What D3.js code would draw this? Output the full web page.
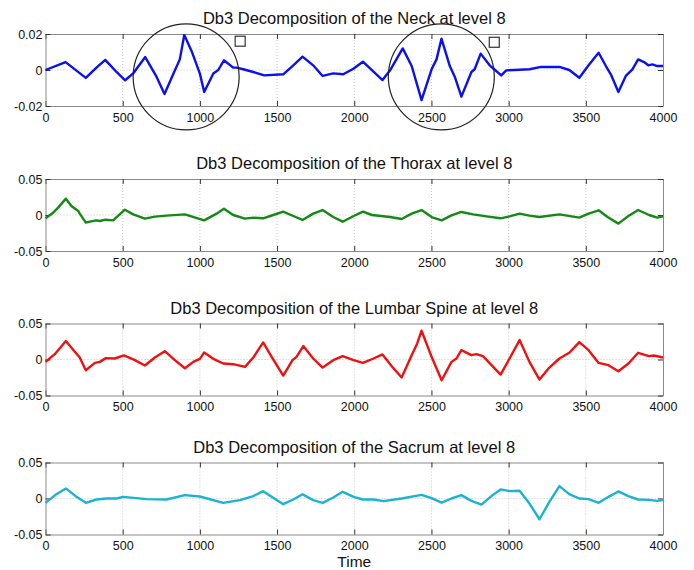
<!DOCTYPE html>
<html>
<head>
<meta charset="utf-8">
<script src="https://cdn.jsdelivr.net/npm/d3@7/dist/d3.min.js"></script>
<style>
  html, body { margin: 0; padding: 0; background: #fff; }
  svg { display: block; font-family: "Liberation Sans", Arial, Helvetica, sans-serif; }
  .domain { stroke: #8a8a8a; }
  .tick line { stroke: #333; }
  .tick text { fill: #111; }
</style>
</head>
<body>
<svg id="chart" width="694" height="570"></svg>
<script>
// Level-8 Db3 approximation signals (sample index vs. amplitude)
const neckT = [0,130,261,330,387,460,516,568,646,719,771,827,870,899,946,1000,1028,1087,1119,1156,1216,1238,1281,1346,1417,1540,1600,1665,1734,1795,1864,1929,1994,2056,2183,2232,2314,2372,2436,2501,2533,2565,2619,2651,2694,2759,2780,2819,2877,2903,2952,2985,3038,3135,3210,3329,3393,3458,3518,3583,3630,3662,3711,3759,3802,3839,3877,3905,3931,3963,4000];
const neckV = [0,0.0044,-0.0044,0.0013,0.0056,-0.0011,-0.0057,-0.0019,0.0072,-0.0037,-0.0133,-0.0024,0.0059,0.0194,0.0106,-0.002,-0.0122,-0.0019,0,0.0054,0.0013,0.0013,0.0004,-0.0011,-0.003,-0.0024,0.0022,0.0074,0.0026,-0.0033,-0.0019,-0.0024,0.0007,0.0046,-0.0056,-0.0002,0.012,0.0022,-0.0167,0.0004,0.0059,0.0174,0.0022,-0.0037,-0.0148,-0.0011,0.0004,0.0091,0.0026,0.0007,-0.003,-0.0002,0,0.0004,0.0017,0.0017,0,-0.0043,0.0026,0.0096,0.0022,-0.0024,-0.0122,-0.0033,0.0004,0.0059,0.0044,0.0026,0.0031,0.0022,0.0022];

const thoraxT = [0,50,82,132,168,212,222,261,287,330,352,389,438,514,568,644,708,784,903,1028,1108,1156,1216,1292,1346,1410,1475,1540,1605,1665,1734,1795,1864,1925,1996,2056,2114,2232,2307,2372,2436,2501,2566,2630,2694,2770,2856,2948,3006,3071,3135,3200,3329,3458,3518,3583,3641,3711,3776,3839,3909,3963,4000];
const thoraxV = [-0.0046,0.0032,0.0102,0.0227,0.0125,0.0056,0.0019,-0.0106,-0.0093,-0.0074,-0.0083,-0.0065,-0.0074,0.0074,0.0009,-0.0051,-0.0023,-0.0009,0.0009,-0.0074,0.0019,0.0088,0,-0.0051,-0.0037,-0.0046,0,0.0046,-0.0014,-0.0069,0.0019,0.0069,-0.0028,-0.0093,-0.0014,0.0046,0,-0.0028,-0.0056,0.0019,0.0069,-0.0028,-0.0074,-0.0005,0.0042,0.0009,-0.0019,-0.0046,-0.0019,0.0019,-0.0009,-0.0028,0.0009,-0.0037,0.0019,0.0065,-0.0028,-0.012,-0.0014,0.0069,0,-0.0037,-0.0019];

const lumbarT = [0,60,132,190,222,261,320,352,391,449,508,579,644,708,773,838,903,957,1000,1028,1087,1151,1216,1292,1346,1410,1465,1540,1600,1626,1670,1734,1795,1864,1925,1996,2056,2125,2183,2243,2307,2372,2408,2436,2501,2566,2630,2662,2694,2759,2791,2834,2948,3006,3071,3135,3200,3264,3329,3393,3458,3518,3583,3647,3711,3776,3839,3909,3941,4000];
const lumbarV = [-0.0033,0.0074,0.0256,0.0107,0.0028,-0.0149,-0.0047,-0.0033,0.0019,0.0014,0.0056,-0.0009,-0.0084,0.0028,0.0116,-0.0009,-0.0121,-0.0033,0.0009,0.0098,0.0009,-0.0056,-0.0065,-0.0102,0.0028,0.0237,0.0037,-0.0223,-0.0009,0.0037,0.0186,0.0014,-0.0112,-0.0009,0.0047,-0.0009,-0.0047,0.0014,0.007,-0.0093,-0.0251,0.006,0.0223,0.04,0.0037,-0.0288,-0.0033,0.0014,0.013,0.006,0.0074,0.0047,-0.0209,0.0014,0.027,-0.0033,-0.0279,-0.0112,0.0014,0.0093,0.0242,0.013,-0.0047,-0.0079,-0.0163,-0.0056,0.0093,0.0047,0.0056,0.0028];

const sacrumT = [0,71,132,201,261,330,395,460,503,654,784,903,1000,1151,1259,1346,1410,1540,1605,1665,1734,1795,1864,1925,1996,2056,2125,2189,2307,2436,2501,2566,2630,2694,2759,2824,2888,2948,3006,3071,3135,3200,3264,3329,3393,3458,3518,3583,3647,3711,3776,3839,3909,3963,4000];
const sacrumV = [-0.006,0.006,0.014,0.0023,-0.006,-0.0014,0,0,0.0023,-0.0009,-0.0014,0.0047,0.0028,-0.006,-0.0023,0.0033,0.0102,-0.0079,-0.0014,0.006,-0.0023,-0.006,0.0014,0.0093,0.0023,-0.0014,-0.0014,-0.0037,0,0.0051,0.0005,-0.0056,0,0.0047,-0.0033,-0.0084,0.0033,0.0126,0.0102,0.0107,-0.007,-0.0288,-0.0047,0.0172,0.006,0,-0.0009,-0.006,0.0023,0.0098,0.0033,-0.0014,-0.0019,-0.0033,-0.0023];

// Panel titles, y-limits and tick labels
const titles = [
  "Db3 Decomposition of the Neck at level 8",
  "Db3 Decomposition of the Thorax at level 8",
  "Db3 Decomposition of the Lumbar Spine at level 8",
  "Db3 Decomposition of the Sacrum at level 8"
];
const yLimits = [[-0.02, 0.02], [-0.05, 0.05], [-0.05, 0.05], [-0.05, 0.05]];
const yTickValues = [[-0.02, 0, 0.02], [-0.05, 0, 0.05], [-0.05, 0, 0.05], [-0.05, 0, 0.05]];
const xTickValues = [0, 500, 1000, 1500, 2000, 2500, 3000, 3500, 4000];
const xLabel = "Time";

// Highlighted regions on the neck signal: [time, amplitude] centres
const circleCentres = [[911, -0.0038], [2564, -0.0038]];
const squareCentres = [[1261, 0.0160], [2907, 0.0154]];

const series = [
  { t: neckT, v: neckV, color: "#0b10f0" },
  { t: thoraxT, v: thoraxV, color: "#148a14" },
  { t: lumbarT, v: lumbarV, color: "#f01010" },
  { t: sacrumT, v: sacrumV, color: "#1ab4d2" }
];

const svg = d3.select("#chart");
const left = 45.5, right = 663, panelH = 72;
const panelTops = [34, 179, 323.5, 462.5];

const x = d3.scaleLinear().domain([0, 4000]).range([left, right]);

series.forEach((s, i) => {
  const top = panelTops[i];
  const y = d3.scaleLinear().domain(yLimits[i]).range([top + panelH, top]);
  const g = svg.append("g");

  // dotted grid
  g.append("g").selectAll("line").data(xTickValues.slice(1, -1)).join("line")
    .attr("x1", d => x(d)).attr("x2", d => x(d))
    .attr("y1", top).attr("y2", top + panelH)
    .attr("stroke", "#b8b8b8").attr("stroke-width", 0.8)
    .attr("stroke-dasharray", "1,2");
  g.append("line")
    .attr("x1", left).attr("x2", right)
    .attr("y1", y(0)).attr("y2", y(0))
    .attr("stroke", "#b8b8b8").attr("stroke-width", 0.8)
    .attr("stroke-dasharray", "1,2");

  // axes with inward ticks
  const fmt = d => d === 0 ? "0" : String(d);
  g.append("g").attr("transform", `translate(0,${top + panelH})`)
    .call(d3.axisBottom(x).tickValues(xTickValues).tickSizeInner(-5).tickSizeOuter(0).tickPadding(7).tickFormat(fmt))
    .call(a => a.selectAll("text").attr("font-size", 12.5).attr("font-family", "Liberation Sans, Arial, sans-serif"));
  g.append("g").attr("transform", `translate(0,${top})`)
    .call(d3.axisTop(x).tickValues(xTickValues).tickSizeInner(-5).tickSizeOuter(0).tickFormat(""));
  g.append("g").attr("transform", `translate(${left},0)`)
    .call(d3.axisLeft(y).tickValues(yTickValues[i]).tickSizeInner(-5).tickSizeOuter(0).tickPadding(3).tickFormat(fmt))
    .call(a => a.selectAll("text").attr("font-size", 12.5).attr("font-family", "Liberation Sans, Arial, sans-serif"));
  g.append("g").attr("transform", `translate(${right},0)`)
    .call(d3.axisRight(y).tickValues(yTickValues[i]).tickSizeInner(-5).tickSizeOuter(0).tickFormat(""));
  g.selectAll(".domain").attr("stroke", "#8a8a8a");

  // signal
  const pts = s.t.map((t, k) => [t, s.v[k]]);
  g.append("path").datum(pts)
    .attr("fill", "none").attr("stroke", s.color).attr("stroke-width", 2.4)
    .attr("stroke-linejoin", "round")
    .attr("d", d3.line().x(d => x(d[0])).y(d => y(d[1])));

  // title
  g.append("text")
    .attr("x", (left + right) / 2).attr("y", top - 10)
    .attr("text-anchor", "middle").attr("font-size", 16.5).attr("fill", "#111")
    .text(titles[i]);

  if (i === 0) {
    const rad = (x(4000) - x(0)) * 53 / 617.5;
    g.selectAll("circle.hl").data(circleCentres).join("circle")
      .attr("class", "hl")
      .attr("cx", d => x(d[0])).attr("cy", d => y(d[1])).attr("r", rad)
      .attr("fill", "none").attr("stroke", "#222").attr("stroke-width", 1.2);
    g.selectAll("rect.hl").data(squareCentres).join("rect")
      .attr("class", "hl")
      .attr("x", d => x(d[0]) - 5).attr("y", d => y(d[1]) - 5)
      .attr("width", 10).attr("height", 10)
      .attr("fill", "none").attr("stroke", "#333").attr("stroke-width", 1.2);
  }

  if (i === series.length - 1) {
    g.append("text")
      .attr("x", (left + right) / 2).attr("y", 567)
      .attr("text-anchor", "middle").attr("font-size", 15.5).attr("fill", "#111")
      .text(xLabel);
  }
});
</script>
</body>
</html>
